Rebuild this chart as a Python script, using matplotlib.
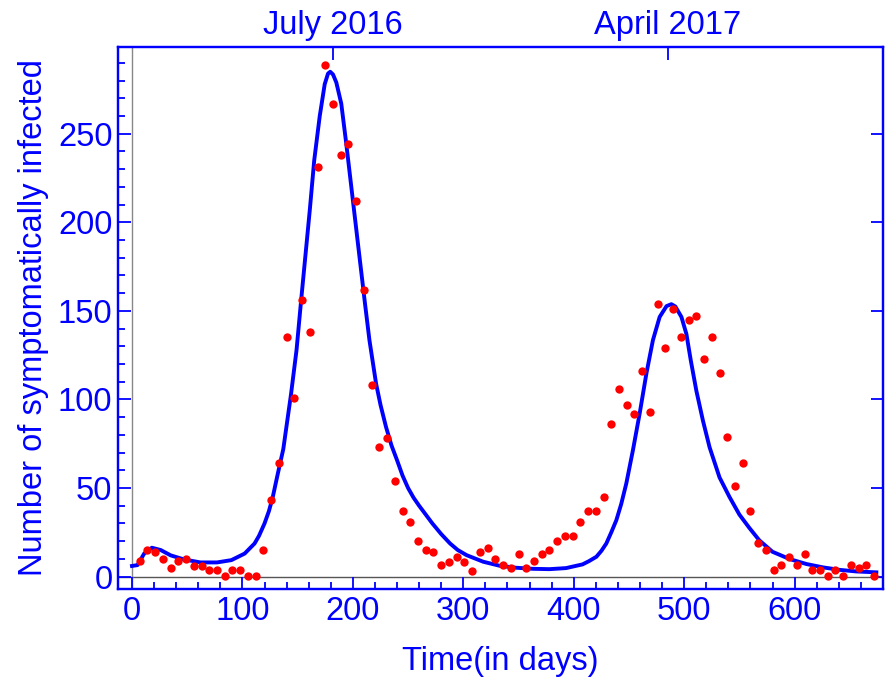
import numpy as np
import matplotlib.pyplot as plt
from matplotlib.ticker import MultipleLocator

plt.rcParams['font.family'] = ['Liberation Sans', 'DejaVu Sans']

# weekly observations (day number)
days = np.arange(7, 673, 7)
cases = [9, 15, 14, 10, 5, 9, 10, 6, 6, 4,
         4, 0.5, 4, 4, 0.5, 0.5, 15, 43, 64, 135,
         101, 156, 138, 231, 289, 267, 238, 244, 212, 162,
         108, 73, 78, 54, 37, 31, 20, 15, 14, 6.5,
         8, 11, 8, 3, 14, 16, 10, 6.5, 5, 12.5,
         5, 9, 12.5, 15, 20, 23, 23, 31, 37, 37,
         45, 86, 106, 97, 92, 116, 93, 154, 129, 151,
         135, 145, 147, 123, 135, 115, 79, 51, 64, 37,
         19, 15, 4, 6.5, 11, 6.5, 12.5, 4, 4, 0.5,
         4, 0.5, 6.5, 5, 6.5, 0.5]

# model curve
fit_t = [0, 5, 11, 18, 26, 35, 47, 62, 77, 90,
         102, 111, 115, 120, 124, 127.5, 132, 137, 144, 149,
         153, 161, 165, 170, 174.5, 177.5, 179.5, 182, 185, 189.5,
         194, 200, 206, 211, 215, 221, 225, 230, 235, 240,
         245, 250, 255, 260, 266, 272, 280, 288, 295, 303,
         318, 333, 348, 363, 378, 393, 408, 414, 420.5, 425,
         429.5, 434, 438.6, 443, 447.6, 453.6, 459.7, 465.8, 471.7, 477.8,
         484, 488.4, 492, 497.5, 502, 506, 511, 517, 523, 532,
         541, 550, 559, 568, 580, 595.5, 610.7, 625.7, 640.8, 656,
         674]
fit_y = [6, 6.5, 13, 16.3, 15, 12, 9.7, 8, 8, 9.3,
         13, 18.7, 23, 30, 37, 45, 58, 72, 103, 128,
         155, 207, 235, 260, 278, 284, 285, 283.5, 279, 267,
         244.5, 212.5, 180.5, 154, 133.5, 109, 97, 84.5, 74, 65.7,
         57, 50, 44.5, 40, 35, 30, 24, 18.7, 15, 12.1,
         8.4, 6.1, 5, 4.4, 4.2, 4.8, 6.9, 8.8, 11.2, 14.5,
         18.7, 25, 31.9, 41, 52.6, 71.4, 92.1, 114.7, 133.5, 146.6,
         152.7, 153.8, 152.5, 146.6, 137, 122, 105, 88, 73, 56,
         45, 35, 27.5, 20.5, 14, 9.9, 7.1, 5.2, 3.8, 2.9,
         2.4]

top_ticks = [182, 485]
top_labels = ['July 2016', 'April 2017']

blue = '#0000ff'
fs = 23.5

fig = plt.figure(figsize=(8.85, 6.86), dpi=100)
ax = fig.add_axes([0.1333, 0.1414, 0.8644, 0.7901])

ax.axhline(0, color='#555555', lw=1, zorder=1)
ax.axvline(0, color='#888888', lw=1, zorder=1)
ax.plot(fit_t, fit_y, color=blue, lw=2.8, zorder=3, solid_joinstyle='round')
ax.scatter(days, cases, s=36, color='red', linewidths=0, zorder=4)

ax.set_xlim(-12.7, 680)
ax.set_ylim(-7, 299)

ax.set_xticks(range(0, 700, 100))
ax.set_yticks(range(0, 300, 50))
ax.xaxis.set_minor_locator(MultipleLocator(20))
ax.yaxis.set_minor_locator(MultipleLocator(10))
ax.tick_params(which='both', direction='in', color=blue, labelcolor=blue,
               labelsize=fs, width=1.3, top=False, right=True, labelright=False)
ax.tick_params(axis='x', which='major', length=9, pad=5)
ax.tick_params(axis='y', which='major', length=9, pad=4)
ax.tick_params(which='minor', length=5, right=False)

for s in ax.spines.values():
    s.set_color(blue)
    s.set_linewidth(1.6)

ax.set_xlabel('Time(in days)', color=blue, fontsize=fs, labelpad=14)
ax.set_ylabel('Number of symptomatically infected', color=blue, fontsize=fs, labelpad=6)

ax2 = ax.twiny()
ax2.set_xlim(ax.get_xlim())
ax2.set_xticks(top_ticks)
ax2.set_xticklabels(top_labels)
ax2.tick_params(direction='in', length=9, width=1.3, color=blue,
                labelcolor=blue, labelsize=fs, pad=4)
for s in ax2.spines.values():
    s.set_color(blue)
    s.set_linewidth(1.6)

fig.savefig('out.png', dpi=100)
